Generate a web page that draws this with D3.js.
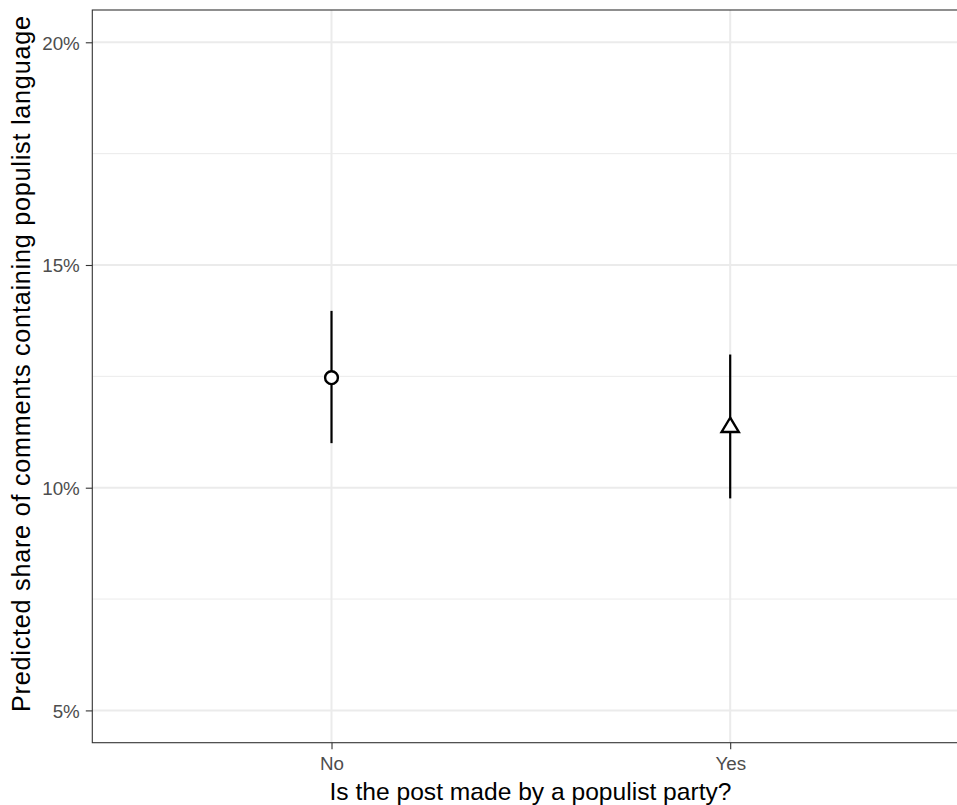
<!DOCTYPE html>
<html><head><meta charset="utf-8">
<script src="https://cdn.jsdelivr.net/npm/d3@7"></script>
<style>body{margin:0;background:#fff;} svg{display:block;font-family:"Liberation Sans",Arial,sans-serif;}</style>
</head><body>
<script>
const categories = ["No", "Yes"];
const estimates = [0.1247, 0.1136];
const lower = [0.1100, 0.0976];
const upper = [0.1397, 0.1299];
const shapes = ["circle", "triangle"];
const yTicks = [0.05, 0.10, 0.15, 0.20];
const yMinor = [0.075, 0.125, 0.175];
const xTitle = "Is the post made by a populist party?";
const yTitle = "Predicted share of comments containing populist language";

const W = 957, H = 805;
const panel = {left: 92.3, right: 969.4, top: 10, bottom: 742.7};
const svg = d3.select("body").append("svg").attr("width", W).attr("height", H);

const y = d3.scaleLinear().domain([0.04275, 0.20725]).range([panel.bottom, panel.top]);
const xc = d3.scaleLinear().domain([0.4, 2.6]).range([panel.left, panel.right]);
const x = c => xc(categories.indexOf(c) + 1);

const g = svg.append("g");
g.selectAll(".minor").data(yMinor).join("line")
  .attr("x1", panel.left).attr("x2", panel.right)
  .attr("y1", d => y(d)).attr("y2", d => y(d))
  .attr("stroke", "#EBEBEB").attr("stroke-width", 1);
g.selectAll(".major").data(yTicks).join("line")
  .attr("x1", panel.left).attr("x2", panel.right)
  .attr("y1", d => y(d)).attr("y2", d => y(d))
  .attr("stroke", "#EBEBEB").attr("stroke-width", 2);
g.selectAll(".vmajor").data(categories).join("line")
  .attr("x1", d => x(d)).attr("x2", d => x(d))
  .attr("y1", panel.top).attr("y2", panel.bottom)
  .attr("stroke", "#EBEBEB").attr("stroke-width", 2);

g.selectAll(".err").data(categories).join("line")
  .attr("x1", d => x(d)).attr("x2", d => x(d))
  .attr("y1", (d, i) => y(lower[i])).attr("y2", (d, i) => y(upper[i]))
  .attr("stroke", "#000").attr("stroke-width", 2.2);

categories.forEach((c, i) => {
  const cx = x(c), cy = y(estimates[i]);
  if (shapes[i] === "circle") {
    g.append("circle").attr("cx", cx).attr("cy", cy).attr("r", 6.4)
      .attr("fill", "#fff").attr("stroke", "#000").attr("stroke-width", 2.4);
  } else {
    const pts = [[cx, cy - 9.4], [cx + 8.6, cy + 4.8], [cx - 8.6, cy + 4.8]];
    g.append("polygon").attr("points", pts.map(p => p.join(",")).join(" "))
      .attr("fill", "#fff").attr("stroke", "#000").attr("stroke-width", 2.4).attr("stroke-linejoin", "miter");
  }
});

g.append("rect").attr("x", panel.left).attr("y", panel.top)
  .attr("width", panel.right - panel.left).attr("height", panel.bottom - panel.top)
  .attr("fill", "none").attr("stroke", "#333333").attr("stroke-width", 1.1);

const yAxis = d3.axisLeft(y).tickValues(yTicks).tickSize(6.5).tickPadding(6)
  .tickFormat(d => d3.format(".0f")(d * 100) + "%");
const ya = svg.append("g").attr("transform", `translate(${panel.left},0)`).call(yAxis);
ya.select(".domain").remove();
ya.selectAll(".tick line").attr("stroke", "#333333").attr("stroke-width", 1.1);
ya.selectAll(".tick text").attr("fill", "#4D4D4D").attr("dy", "0.36em").style("font-size", "18.8px")
  .style("font-family", "Liberation Sans, Arial, sans-serif");

const xBand = d3.scalePoint().domain(categories).range([x(categories[0]), x(categories[1])]);
const xAxis = d3.axisBottom(xBand).tickSize(6.5).tickPadding(7);
const xa = svg.append("g").attr("transform", `translate(0,${panel.bottom})`).call(xAxis);
xa.select(".domain").remove();
xa.selectAll(".tick line").attr("stroke", "#333333").attr("stroke-width", 1.1);
xa.selectAll(".tick text").attr("fill", "#4D4D4D").style("font-size", "18.8px")
  .style("font-family", "Liberation Sans, Arial, sans-serif");

svg.append("text").attr("x", 530.5).attr("y", 800)
  .attr("text-anchor", "middle").attr("fill", "#000").style("font-size", "24.6px").text(xTitle);
svg.append("text").attr("transform", `translate(29.5,364) rotate(-90)`)
  .attr("text-anchor", "middle").attr("fill", "#000").style("font-size", "25.2px")
  .attr("textLength", 696).attr("lengthAdjust", "spacing").text(yTitle);
</script>
</body></html>
